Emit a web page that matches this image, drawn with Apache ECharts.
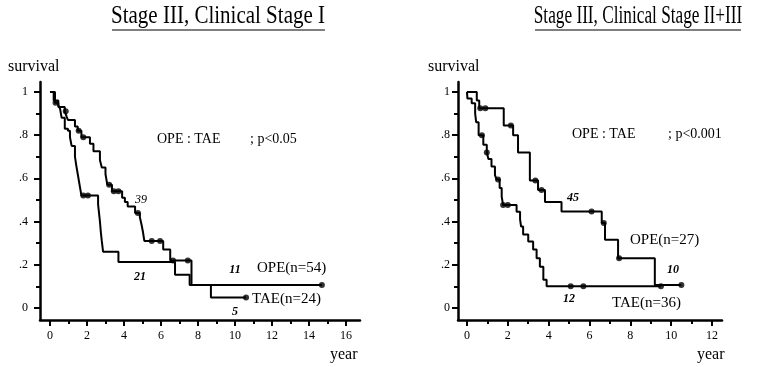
<!DOCTYPE html>
<html>
<head>
<meta charset="utf-8">
<script src="https://cdn.jsdelivr.net/npm/echarts@6/dist/echarts.min.js"></script>
<style>
html, body { margin: 0; padding: 0; background: #fff; }
#chart { width: 769px; height: 367px; }
</style>
</head>
<body>
<div id="chart"></div>
<script>
var chart = echarts.init(document.getElementById('chart'));

// left panel: Stage III, Clinical Stage I
var opeYearsA = [0, 0.27, 0.45, 0.8, 0.9, 0.97, 1.35, 1.5, 1.7, 2.16, 2.35, 2.7, 2.8, 3.0, 3.1, 3.35, 3.9, 4.05, 4.2, 4.6, 4.86, 4.95, 5.03, 5.1, 6.12, 6.5, 7.65, 14.7];
var opeSurvA  = [1, 0.95, 0.93, 0.91, 0.886, 0.87, 0.84, 0.82, 0.79, 0.76, 0.725, 0.685, 0.65, 0.62, 0.57, 0.54, 0.51, 0.49, 0.47, 0.44, 0.42, 0.385, 0.35, 0.31, 0.27, 0.22, 0.106, 0.106];
var opeCensorA = [0.3, 0.85, 1.55, 1.8, 3.2, 3.45, 3.7, 4.75, 5.5, 5.95, 6.65, 7.45, 14.7];
var taeYearsA = [0, 0.2, 0.45, 0.55, 0.63, 0.8, 0.97, 1.08, 1.17, 1.35, 1.42, 1.5, 1.6, 1.7, 2.6, 2.65, 2.7, 2.75, 2.8, 2.87, 3.7, 6.76, 7.55, 8.7, 10.6];
var taeSurvA  = [1, 0.96, 0.94, 0.92, 0.88, 0.83, 0.82, 0.79, 0.75, 0.70, 0.66, 0.62, 0.57, 0.52, 0.48, 0.44, 0.40, 0.35, 0.31, 0.26, 0.213, 0.153, 0.106, 0.048, 0.048];
var taeCensorA = [1.8, 2.05, 10.6];

// right panel: Stage III, Clinical Stage II+III
var opeYearsB = [0, 0.48, 0.6, 1.8, 2.26, 2.5, 3.08, 3.48, 3.82, 4.63, 6.6, 6.76, 7.4, 9.2, 10.5];
var opeSurvB  = [1, 0.96, 0.925, 0.845, 0.80, 0.72, 0.59, 0.546, 0.49, 0.446, 0.393, 0.315, 0.23, 0.106, 0.106];
var opeCensorB = [0.65, 0.9, 2.15, 3.35, 3.65, 6.1, 6.7, 7.45, 10.5];
var taeYearsB = [0, 0.02, 0.23, 0.4, 0.45, 0.57, 0.8, 0.97, 1.05, 1.2, 1.37, 1.45, 1.6, 1.7, 1.77, 2.43, 2.6, 2.65, 2.75, 3.0, 3.24, 3.41, 3.57, 3.74, 3.9, 9.5];
var taeSurvB  = [1, 0.97, 0.948, 0.90, 0.86, 0.80, 0.755, 0.72, 0.69, 0.655, 0.615, 0.595, 0.555, 0.515, 0.476, 0.445, 0.41, 0.377, 0.34, 0.307, 0.27, 0.23, 0.19, 0.13, 0.10, 0.10];
var taeCensorB = [0.73, 0.97, 1.52, 1.77, 2.0, 5.08, 5.7, 9.5];

var yTicks = [0, 0.2, 0.4, 0.6, 0.8, 1];
var yMinor = [0.1, 0.3, 0.5, 0.7, 0.9];
var xTicksA = [0, 2, 4, 6, 8, 10, 12, 14, 16];
var xMinorA = [1, 3, 5, 7, 9, 11, 13, 15];
var xTicksB = [0, 2, 4, 6, 8, 10, 12];
var xMinorB = [1, 3, 5, 7, 9, 11];

var font = 'Liberation Serif';

function pairs(t, s) {
    return t.map(function (v, i) { return [v, s[i]]; });
}
// censored cases sit on the curve at their time
function censor(t, s, times) {
    return times.map(function (x) {
        var v = s[0];
        for (var i = 0; i < t.length; i++) { if (t[i] <= x) v = s[i]; }
        return [x, v];
    });
}
function yFmt(v) {
    if (v === 0) return '0';
    if (v === 1) return '1';
    return v.toFixed(1).replace('0.', '.');
}

function xAxes(grid, min, max, ticks, minor) {
    return [{
        type: 'value', gridIndex: grid, position: 'bottom', min: min, max: max,
        axisLine: { show: true, onZero: false, lineStyle: { color: '#000', width: 2.5 } },
        axisTick: { show: true, customValues: ticks, length: 6, lineStyle: { color: '#000', width: 2 } },
        axisLabel: { customValues: ticks, color: '#000', fontFamily: font, fontSize: 12, margin: 10 },
        splitLine: { show: false }
    }, {
        type: 'value', gridIndex: grid, position: 'bottom', min: min, max: max,
        axisLine: { show: false, onZero: false },
        axisTick: { show: true, customValues: minor, length: 4, lineStyle: { color: '#000', width: 2 } },
        axisLabel: { show: false },
        splitLine: { show: false }
    }];
}
function yAxes(grid, margin) {
    return [{
        type: 'value', gridIndex: grid, position: 'left', min: -0.056, max: 1.046,
        axisLine: { show: true, onZero: false, lineStyle: { color: '#000', width: 2.5 } },
        axisTick: { show: true, customValues: yTicks, length: 6, lineStyle: { color: '#000', width: 2 } },
        axisLabel: { customValues: yTicks, formatter: yFmt, color: '#000', fontFamily: font, fontSize: 12, margin: margin },
        splitLine: { show: false }
    }, {
        type: 'value', gridIndex: grid, position: 'left', min: -0.056, max: 1.046,
        axisLine: { show: false, onZero: false },
        axisTick: { show: true, customValues: yMinor, length: 4, lineStyle: { color: '#000', width: 2 } },
        axisLabel: { show: false },
        splitLine: { show: false }
    }];
}
function curve(name, xi, yi, t, s) {
    return {
        name: name, type: 'line', step: 'end', xAxisIndex: xi, yAxisIndex: yi,
        showSymbol: false, lineStyle: { color: '#000', width: 2 },
        data: pairs(t, s)
    };
}
function marks(xi, yi, pts) {
    return {
        type: 'scatter', xAxisIndex: xi, yAxisIndex: yi, symbolSize: 6,
        itemStyle: { color: '#000' }, data: pts
    };
}
function txt(x, y, text, size, extra) {
    var style = { text: text, fill: '#000', font: (extra && extra.font ? extra.font + ' ' : '') + size + 'px "' + font + '"',
        textAlign: (extra && extra.align) || 'left', textVerticalAlign: 'middle' };
    var el = { type: 'text', x: x, y: y, style: style };
    if (extra && extra.scaleX) { el.scaleX = extra.scaleX; }
    return el;
}

var option = {
    animation: false,
    backgroundColor: '#fff',
    grid: [
        { left: 40, top: 82, width: 320, height: 238 },
        { left: 458, top: 82, width: 264, height: 238 }
    ],
    xAxis: xAxes(0, -0.54, 16.76, xTicksA, xMinorA).concat(xAxes(1, -0.44, 12.49, xTicksB, xMinorB)),
    yAxis: yAxes(0, 12).concat(yAxes(1, 8)),
    series: [
        curve('OPE', 0, 0, opeYearsA, opeSurvA),
        curve('TAE', 0, 0, taeYearsA, taeSurvA),
        marks(0, 0, censor(opeYearsA, opeSurvA, opeCensorA)),
        marks(0, 0, censor(taeYearsA, taeSurvA, taeCensorA)),
        curve('OPE', 2, 2, opeYearsB, opeSurvB),
        curve('TAE', 2, 2, taeYearsB, taeSurvB),
        marks(2, 2, censor(opeYearsB, opeSurvB, opeCensorB)),
        marks(2, 2, censor(taeYearsB, taeSurvB, taeCensorB))
    ],
    graphic: [
        txt(218, 16, 'Stage III, Clinical Stage I', 25, { align: 'center', scaleX: 0.84 }),
        { type: 'line', shape: { x1: 112, y1: 30, x2: 325, y2: 30 }, style: { stroke: '#000', lineWidth: 1.2 } },
        txt(638, 16, 'Stage III, Clinical Stage II+III', 25, { align: 'center', scaleX: 0.69 }),
        { type: 'line', shape: { x1: 535, y1: 30, x2: 741, y2: 30 }, style: { stroke: '#000', lineWidth: 1.2 } },

        txt(8, 67, 'survival', 16),
        txt(330, 355, 'year', 16),
        txt(157, 139, 'OPE : TAE', 14),
        txt(250, 139, '; p<0.05', 14),
        txt(141, 200, '39', 12, { font: 'italic', align: 'center' }),
        txt(140, 277, '21', 12, { font: 'italic bold', align: 'center' }),
        txt(235, 270, '11', 12, { font: 'italic bold', align: 'center' }),
        txt(235, 312, '5', 12, { font: 'italic bold', align: 'center' }),
        txt(257, 268, 'OPE(n=54)', 15),
        txt(252, 299, 'TAE(n=24)', 15),

        txt(428, 67, 'survival', 16),
        txt(697, 355, 'year', 16),
        txt(572, 134, 'OPE : TAE', 14),
        txt(668, 134, '; p<0.001', 14),
        txt(573, 198, '45', 12, { font: 'italic bold', align: 'center' }),
        txt(673, 270, '10', 12, { font: 'italic bold', align: 'center' }),
        txt(569, 299, '12', 12, { font: 'italic bold', align: 'center' }),
        txt(630, 240, 'OPE(n=27)', 15),
        txt(612, 303, 'TAE(n=36)', 15)
    ]
};
chart.setOption(option);
</script>
</body>
</html>
